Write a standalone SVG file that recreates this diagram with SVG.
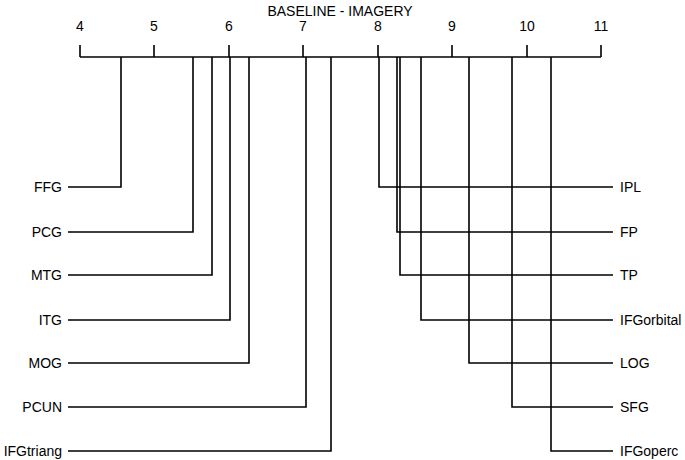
<svg xmlns="http://www.w3.org/2000/svg" width="685" height="460" viewBox="0 0 685 460">
<style>
line,path{stroke:#000;stroke-width:1.6;fill:none}
text{font-family:"Liberation Sans",Arial,sans-serif;font-size:14px;fill:#000}
.l{text-anchor:end}
.m{text-anchor:middle}
</style>
<rect width="685" height="460" fill="#fff"/>
<g id="axis">
<text class="m" x="340" y="16" font-size="20">BASELINE - IMAGERY</text>
<line x1="80" y1="57" x2="601" y2="57"/>
<g font-size="15">
<text class="m" x="80" y="31" font-size="15">4</text><text class="m" x="154" y="31" font-size="15">5</text><text class="m" x="229" y="31" font-size="15">6</text><text class="m" x="303" y="31" font-size="15">7</text><text class="m" x="378" y="31" font-size="15">8</text><text class="m" x="452" y="31" font-size="15">9</text><text class="m" x="527" y="31" font-size="15">10</text><text class="m" x="601" y="31" font-size="15">11</text>
</g>
<path d="M80 45V57M154 45V57M229 45V57M303 45V57M378 45V57M452 45V57M527 45V57M601 45V57"/>
</g>
<g id="connectors">
<path d="M121 57V187H68"/>
<path d="M193 57V232H68"/>
<path d="M212 57V275H68"/>
<path d="M230 57V320H68"/>
<path d="M249 57V363H68"/>
<path d="M306 57V407H68"/>
<path d="M331 57V451H68"/>
<path d="M379 57V187H613"/>
<path d="M397 57V232H613"/>
<path d="M400 57V275H613"/>
<path d="M421 57V320H613"/>
<path d="M469 57V363H613"/>
<path d="M512 57V407H613"/>
<path d="M551 57V451H613"/>
</g>
<g id="FFG"><text class="l" x="62" y="192">FFG</text></g>
<g id="PCG"><text class="l" x="62" y="237">PCG</text></g>
<g id="MTG"><text class="l" x="62" y="280">MTG</text></g>
<g id="ITG"><text class="l" x="62" y="325">ITG</text></g>
<g id="MOG"><text class="l" x="62" y="368">MOG</text></g>
<g id="PCUN"><text class="l" x="62" y="412">PCUN</text></g>
<g id="IFGtriang"><text class="l" x="62" y="456">IFGtriang</text></g>
<g id="IPL"><text x="620" y="192">IPL</text></g>
<g id="FP"><text x="620" y="237">FP</text></g>
<g id="TP"><text x="620" y="280">TP</text></g>
<g id="IFGorbital"><text x="620" y="325">IFGorbital</text></g>
<g id="LOG"><text x="620" y="368">LOG</text></g>
<g id="SFG"><text x="620" y="412">SFG</text></g>
<g id="IFGoperc"><text x="620" y="456">IFGoperc</text></g>
</svg>
